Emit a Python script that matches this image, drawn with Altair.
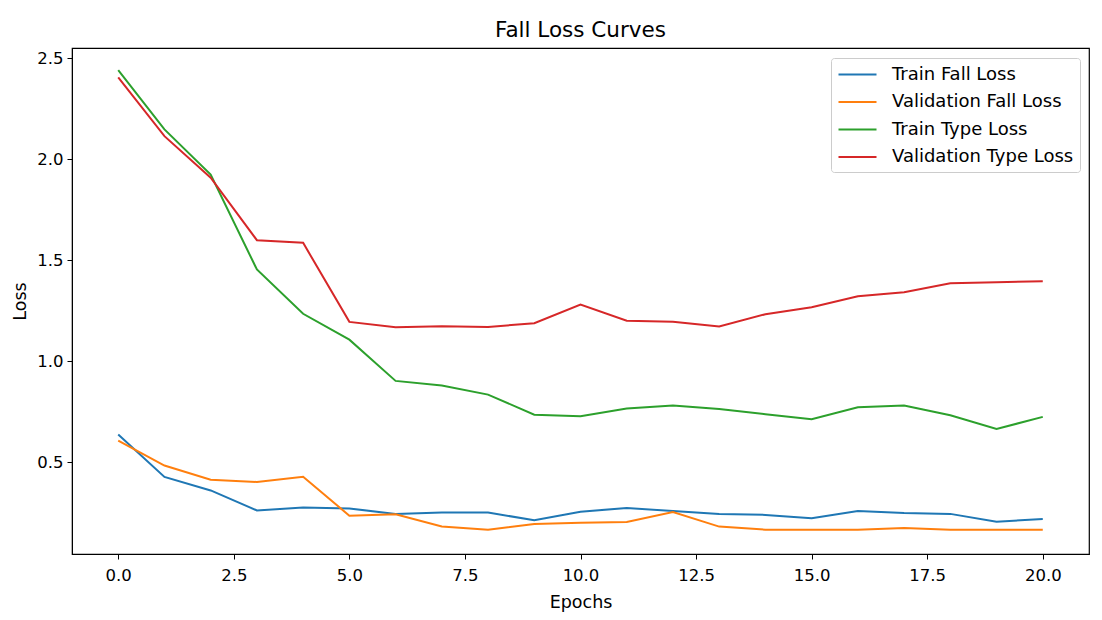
import altair as alt
import pandas as pd

epochs = list(range(21))
train_fall = [0.638, 0.428, 0.361, 0.262, 0.277, 0.272, 0.245, 0.252, 0.252, 0.213,
              0.256, 0.274, 0.259, 0.245, 0.240, 0.223, 0.259, 0.249, 0.245, 0.206, 0.220]
val_fall = [0.607, 0.484, 0.414, 0.403, 0.429, 0.236, 0.243, 0.183, 0.167, 0.195,
            0.201, 0.205, 0.254, 0.182, 0.167, 0.167, 0.167, 0.175, 0.167, 0.167, 0.167]
train_type = [2.44, 2.147, 1.924, 1.454, 1.235, 1.107, 0.903, 0.880, 0.835, 0.736,
              0.728, 0.766, 0.781, 0.764, 0.738, 0.713, 0.772, 0.781, 0.733, 0.665, 0.725]
val_type = [2.405, 2.114, 1.908, 1.599, 1.586, 1.195, 1.168, 1.173, 1.170, 1.188,
            1.281, 1.201, 1.196, 1.172, 1.233, 1.267, 1.322, 1.342, 1.386, 1.391, 1.396]

series_names = ["Train Fall Loss", "Validation Fall Loss", "Train Type Loss", "Validation Type Loss"]
series_colors = ["#1f77b4", "#ff7f0e", "#2ca02c", "#d62728"]
x_ticks = [0, 2.5, 5, 7.5, 10, 12.5, 15, 17.5, 20]
y_ticks = [0.5, 1.0, 1.5, 2.0, 2.5]

rows = []
for name, vals in zip(series_names, [train_fall, val_fall, train_type, val_type]):
    for e, v in zip(epochs, vals):
        rows.append({"Epoch": e, "Loss": v, "Series": name})
df = pd.DataFrame(rows)

FONT = "DejaVu Sans"

chart = alt.Chart(df).mark_line(strokeWidth=2).encode(
    x=alt.X("Epoch:Q",
            scale=alt.Scale(domain=[-1, 21], nice=False, zero=False),
            axis=alt.Axis(title="Epochs", values=x_ticks, format=".1f", grid=False,
                          labelFontSize=16.5, titleFontSize=17.5, titleFontWeight="normal",
                          tickSize=5, labelPadding=8, titlePadding=10,
                          domainColor="black", tickColor="black", labelColor="black",
                          titleColor="black", labelFont=FONT, titleFont=FONT)),
    y=alt.Y("Loss:Q",
            scale=alt.Scale(domain=[0.0465, 2.55], nice=False, zero=False),
            axis=alt.Axis(title="Loss", values=y_ticks, format=".1f", grid=False,
                          labelFontSize=16.5, titleFontSize=17.5, titleFontWeight="normal",
                          tickSize=5, labelPadding=4,
                          titleX=-52, titleY=253, titleAngle=270, titleAlign="center",
                          titleBaseline="middle",
                          domainColor="black", tickColor="black", labelColor="black",
                          titleColor="black", labelFont=FONT, titleFont=FONT)),
    color=alt.Color("Series:N",
                    scale=alt.Scale(domain=series_names, range=series_colors),
                    sort=series_names,
                    legend=alt.Legend(title=None, orient="none", legendX=759, legendY=10,
                                      symbolType="M-2,0L2,0", symbolSize=361, symbolStrokeWidth=2,
                                      symbolOffset=10, labelLimit=400,
                                      labelFontSize=18, labelFont=FONT, labelColor="black",
                                      rowPadding=7.5, padding=6, fillColor="white",
                                      strokeColor="#cccccc", cornerRadius=3,
                                      labelOffset=24)),
).properties(
    width=1017,
    height=506,
    title=alt.TitleParams("Fall Loss Curves", fontSize=21.5, font=FONT, fontWeight="normal",
                          color="black", offset=7),
    padding={"left": 64, "top": 40, "right": 5, "bottom": 62},
    autosize=alt.AutoSizeParams(type="none"),
).configure_view(stroke="black", strokeWidth=1.2)

chart.save("out.html", embed_options={"renderer": "svg", "actions": False})
